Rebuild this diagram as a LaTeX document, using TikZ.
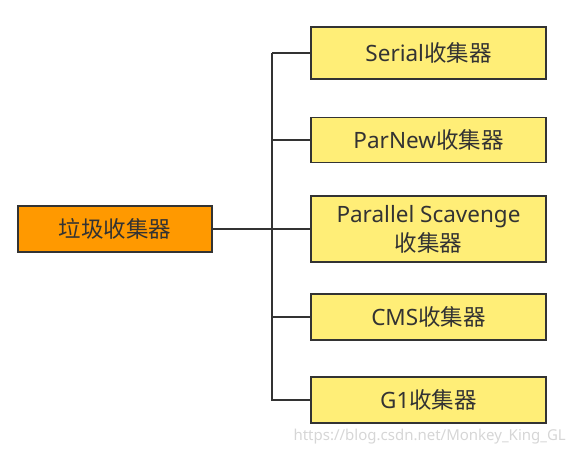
\documentclass[tikz,border=0pt]{standalone}
\usepackage{fontspec}
\setmainfont{Noto Sans}
\newfontfamily\cjk{Noto Sans CJK SC}
\definecolor{rootfill}{HTML}{FF9900}
\definecolor{leaffill}{HTML}{FFEE77}
\definecolor{edge}{HTML}{333333}
\begin{document}
\begin{tikzpicture}[x=1pt,y=-1pt,
  box/.style={draw=edge,line width=1.6pt,text=edge,font=\fontsize{22.5}{29}\selectfont,align=center,inner sep=0pt},
  rootbox/.style={box,fill=rootfill,minimum width=194pt,minimum height=46pt},
  leaf/.style={box,fill=leaffill,minimum width=235pt},
  conn/.style={draw=edge,line width=1.6pt}]
\useasboundingbox (0,0) rectangle (574,454);
\node[rootbox] (root) at (115,229) {\cjk 垃圾收集器};
\node[leaf,minimum height=52pt] (l1) at (428.5,53) {Serial{\cjk 收集器}};
\node[leaf,minimum height=45pt] (l2) at (428.5,140) {ParNew{\cjk 收集器}};
\node[leaf,minimum height=66pt] (l3) at (428.5,229) {Parallel Scavenge\\{\cjk 收集器}};
\node[leaf,minimum height=46pt] (l4) at (428.5,317) {CMS{\cjk 收集器}};
\node[leaf,minimum height=46pt] (l5) at (428.5,400) {G1{\cjk 收集器}};
\coordinate (j) at (272,229);
\coordinate (top) at (272,53);
\coordinate (bot) at (272,401);
\draw[conn] (top) -- (bot);
\draw[conn] (root.east) -- (j);
\foreach \n in {l1,l2,l3,l4,l5} \draw[conn] (\n.west) -- (\n.west -| j);
\node[text=black!16,font=\fontsize{15}{17}\selectfont,anchor=east,inner sep=0pt] (wm) at (566,437) {https://blog.csdn.net/Monkey\_King\_GL};
\end{tikzpicture}
\end{document}
